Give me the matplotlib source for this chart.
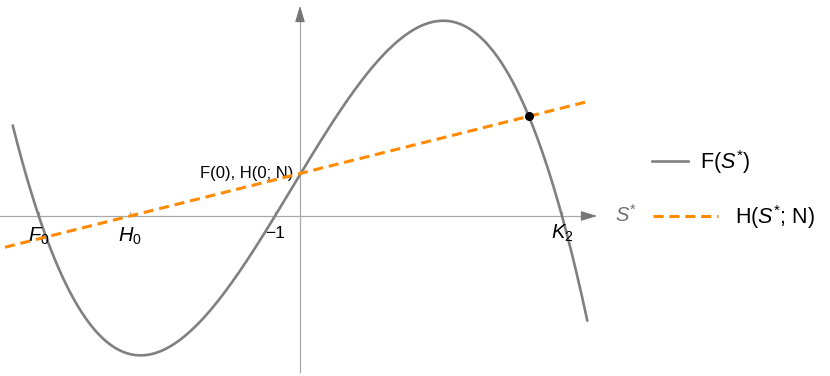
import numpy as np
import matplotlib
matplotlib.use("Agg")
import matplotlib.pyplot as plt

plt.rcParams['font.family'] = ['Liberation Sans', 'DejaVu Sans']
plt.rcParams['mathtext.fontset'] = 'custom'
plt.rcParams['mathtext.rm'] = 'Liberation Sans'
plt.rcParams['mathtext.it'] = 'Liberation Sans:italic'

# ---- data ----
F_roots = [-10.45, -1.0, 10.48]     # F0, -1, K2 (zeros of the cubic F)
F_lead = -0.0151                     # leading coefficient of F
F_range = [-11.5, 11.5]
H_zero = -6.8                        # H0
H_at_0 = 1.70                        # H(0; N)
H_range = [-11.8, 11.5]
dot_s = [9.15]
dot_F = [3.99]
tick_pos = [-10.45, -6.8, -1.0, 10.48]
tick_labels = [r'$F_0$', r'$H_0$', '\u22121', r'$K_2$']
legend_labels = [r'F($S^{*}$)', r'H($S^{*}$; N)']

gray = '#808080'
orange = '#ff8a00'

fig = plt.figure(figsize=(8.3, 3.76), dpi=100)
ax = fig.add_axes([0, 0, 600 / 830, 1])
ax.set_xlim(-12, 12)
ax.set_ylim(-6.4, 8.64)
ax.axis('off')

# axes
ax.plot([-12, 11.6], [0, 0], color='#a8a8a8', lw=0.9, clip_on=False, zorder=1)
ax.plot([0, 0], [-6.24, 8.2], color='#a8a8a8', lw=0.9, clip_on=False, zorder=1)
ax.annotate('', xy=(12.0, 0), xytext=(11.5, 0),
            arrowprops=dict(arrowstyle='-|>,head_length=1.0,head_width=0.3',
                            color='#767676', lw=0.8, mutation_scale=10),
            annotation_clip=False)
ax.annotate('', xy=(0, 8.52), xytext=(0, 8.0),
            arrowprops=dict(arrowstyle='-|>,head_length=1.0,head_width=0.3',
                            color='#767676', lw=0.8, mutation_scale=10),
            annotation_clip=False)
for t in tick_pos:
    ax.plot([t, t], [0, 0.17], color='#a8a8a8', lw=0.9, zorder=1)

# curves
s = np.linspace(F_range[0], F_range[1], 600)
F = F_lead * (s - F_roots[0]) * (s - F_roots[1]) * (s - F_roots[2])
ax.plot(s, F, color=gray, lw=1.9, zorder=3, solid_capstyle='butt')

hs = np.array(H_range)
H = H_at_0 * (1 - hs / H_zero)
ax.plot(hs, H, color=orange, lw=2.2, dashes=(3.3, 1.9), zorder=4)

ax.plot(dot_s, dot_F, 'o', color='black', ms=5.5, zorder=5)

# tick labels
offs = [-0.38, -0.38, -0.38, -0.28]
sizes = [14.5, 14.5, 12.5, 14.5]
for t, lab, o, fs in zip(tick_pos, tick_labels, offs, sizes):
    ax.text(t, o, lab, ha='center', va='top', fontsize=fs, color='black')

ax.text(-0.28, 1.52, 'F(0), H(0; N)', ha='right', va='baseline', fontsize=12)
ax.text(12.6, 0.05, r'$S^{*}$', ha='left', va='center', fontsize=14.5,
        color='#707070', clip_on=False)

# legend
lax = fig.add_axes([0, 0, 1, 1])
lax.set_xlim(0, 830)
lax.set_ylim(376, 0)
lax.axis('off')
lax.plot([652, 688], [161, 161], color=gray, lw=1.9)
lax.text(700, 162, legend_labels[0], ha='left', va='center', fontsize=15.5)
lax.plot([653, 718], [216, 216], color=orange, lw=2.2, dashes=(3.3, 1.9))
lax.text(735, 217, legend_labels[1], ha='left', va='center', fontsize=15.5)

fig.savefig('out.png', dpi=100)
